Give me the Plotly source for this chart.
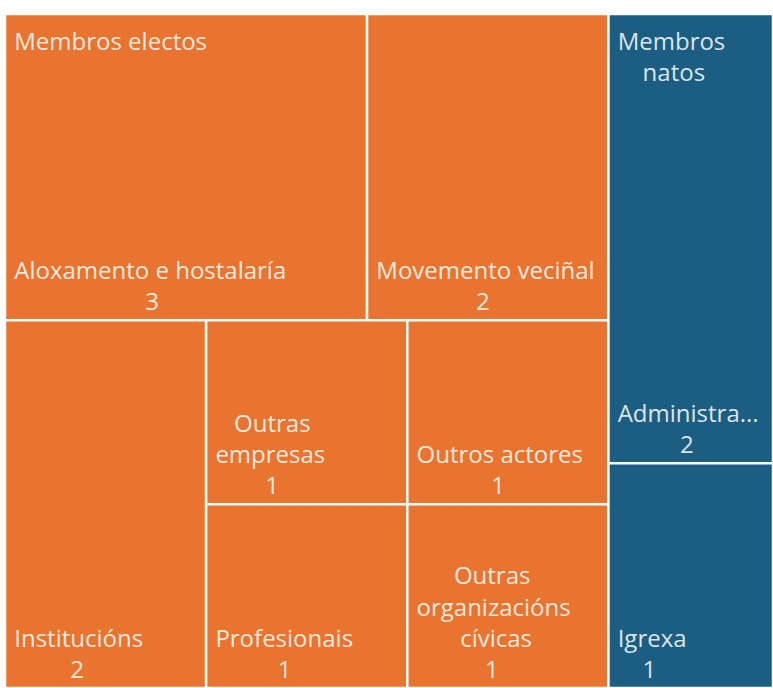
import plotly.graph_objects as go

# ---- data ----
groups = ["Membros electos", "Membros natos"]
group_text = ["Membros electos", "Membros<br>natos"]
group_colors = ["#E9742F", "#1B5E82"]

leaf_labels = [
    "Aloxamento e hostalaría",
    "Movemento veciñal",
    "Institucións",
    "Outras empresas",
    "Profesionais",
    "Outros actores",
    "Outras organizacións cívicas",
    "Administra...",
    "Igrexa",
]
leaf_text = [
    "Aloxamento e hostalaría",
    "Movemento veciñal",
    "Institucións",
    "Outras<br>empresas",
    "Profesionais",
    "Outros actores",
    "Outras<br>organizacións<br>cívicas",
    "Administra...",
    "Igrexa",
]
leaf_parents = [
    "Membros electos", "Membros electos", "Membros electos", "Membros electos",
    "Membros electos", "Membros electos", "Membros electos",
    "Membros natos", "Membros natos",
]
leaf_values = [3, 2, 2, 1, 1, 1, 1, 2, 1]

# ---- text helpers (approximate Open Sans advance widths, 1/2048 em) ----
NB = "\u00a0"
ADV = {
    " ": 532, NB: 532, ".": 545,
    "a": 1139, "b": 1255, "c": 975, "d": 1255, "e": 1149, "f": 694, "g": 1122,
    "h": 1257, "i": 518, "í": 518, "j": 518, "k": 1075, "l": 518, "m": 1905,
    "n": 1257, "ñ": 1257, "o": 1237, "ó": 1237, "p": 1255, "r": 836, "s": 977,
    "t": 723, "u": 1257, "v": 1026, "x": 1073, "z": 977,
    "A": 1296, "I": 614, "M": 1806, "O": 1599, "P": 1200,
}
DIGIT = 1171


def width(s):
    return sum(DIGIT if ch.isdigit() else ADV.get(ch, 1100) for ch in s)


def centred(lines):
    ws = [width(l) for l in lines]
    m = max(ws)
    return [NB * (1 + round((m - w) / 2 / ADV[NB])) + l for l, w in zip(lines, ws)]


# ---- hierarchy ----
ids = list(groups) + [f"{p}/{l}" for p, l in zip(leaf_parents, leaf_labels)]
labels = list(groups) + list(leaf_labels)
parents = [""] * len(groups) + list(leaf_parents)
values = [0] * len(groups) + list(leaf_values)
color_of = dict(zip(groups, group_colors))
colors = list(group_colors) + [color_of[p] for p in leaf_parents]

leaf_tmpl = []
for t, v in zip(leaf_text, leaf_values):
    lines = centred(t.split("<br>") + [str(v)])
    lines[-1] = lines[-1].replace(str(v), "%{value}")
    leaf_tmpl.append("<br>".join(lines))

group_totals = [sum(v for p, v in zip(leaf_parents, leaf_values) if p == g) for g in groups]
group_tmpl = ["<br>".join(centred(t.split("<br>"))) for t in group_text]

font = dict(family="Open Sans", size=24, color="rgba(255,255,255,0.86)")
tiling = dict(packing="squarify", squarifyratio=1, pad=0)
nopad = dict(t=0, l=0, r=0, b=0)

fig = go.Figure()
# coloured tiles with leaf labels at bottom-left
fig.add_trace(go.Treemap(
    ids=ids, labels=labels, parents=parents, values=values,
    branchvalues="remainder", sort=True, tiling=tiling,
    pathbar=dict(visible=False),
    marker=dict(colors=colors, line=dict(color="white", width=2.5), pad=nopad),
    texttemplate=[""] * len(groups) + leaf_tmpl,
    textposition="bottom left",
    textfont=font, hoverinfo="skip",
))
# transparent overlay with the group labels at top-left
fig.add_trace(go.Treemap(
    ids=groups, labels=groups, parents=[""] * len(groups), values=group_totals,
    sort=True, tiling=tiling,
    domain=dict(x=[0, 1], y=[0, 0.99]),
    pathbar=dict(visible=False),
    marker=dict(colors=["rgba(0,0,0,0)"] * len(groups),
                line=dict(color="rgba(0,0,0,0)", width=0), pad=nopad),
    texttemplate=group_tmpl,
    textposition="top left",
    textfont=font, hoverinfo="skip",
))

fig.update_layout(
    width=773, height=688, autosize=False,
    margin=dict(l=5, r=0, t=14, b=0),
    paper_bgcolor="white",
    showlegend=False,
)
fig.write_html(
    "out.html",
    config={"displayModeBar": False},
    post_script="document.body.style.margin='0';document.body.style.overflow='hidden';",
)
